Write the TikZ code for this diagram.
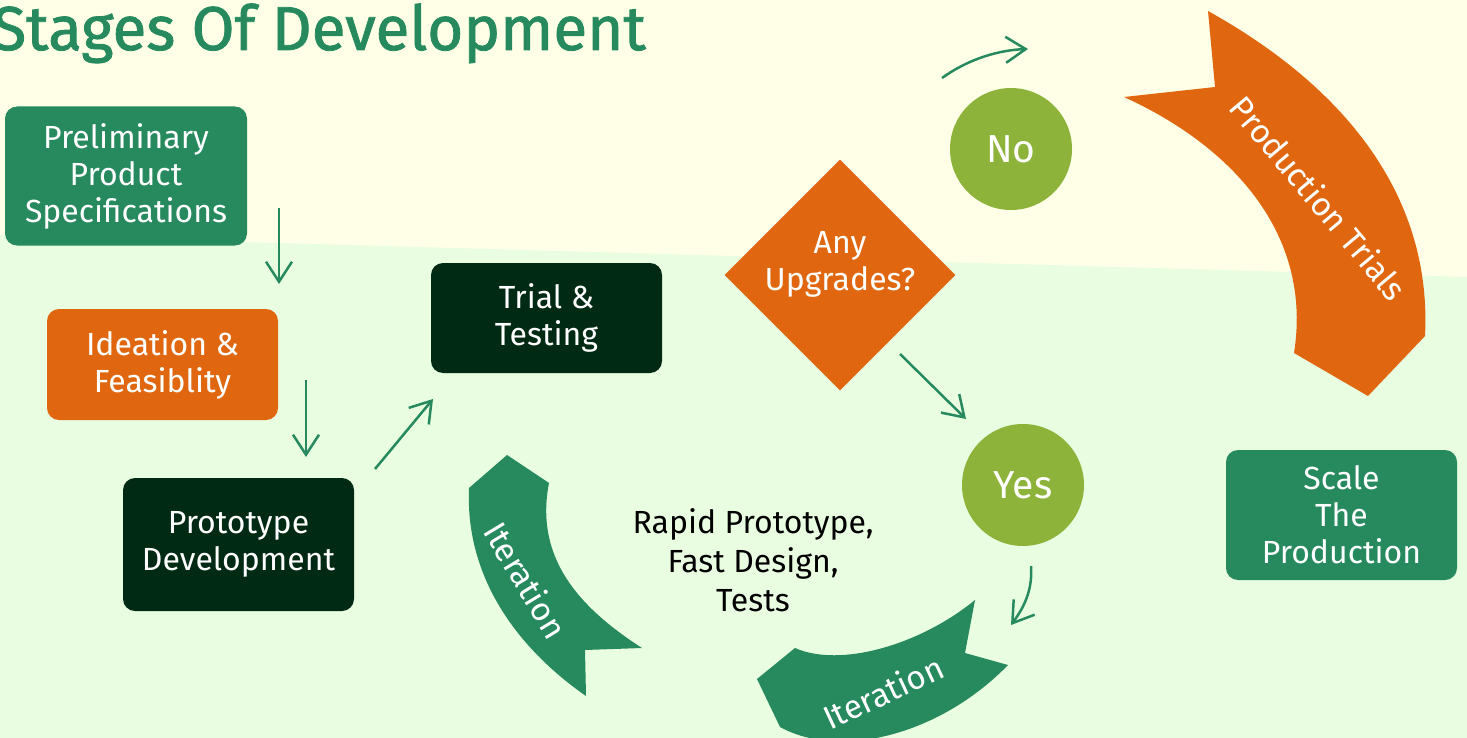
\documentclass[tikz,border=0pt]{standalone}
\usepackage{fontspec}
\setmainfont{Fira Sans}
\newfontfamily\titlefont{Fira Sans}[FakeBold=1.3]
\usetikzlibrary{arrows.meta,shapes.geometric}
\definecolor{bgtop}{HTML}{FEFFE6}
\definecolor{bgbot}{HTML}{E9FDE1}
\definecolor{gbox}{HTML}{268A5E}
\definecolor{obox}{HTML}{E0670F}
\definecolor{dbox}{HTML}{002A14}
\definecolor{olive}{HTML}{8DB33A}
\begin{document}
\begin{tikzpicture}[x=0.5pt,y=-0.5pt,
  box/.style={rounded corners=6pt, text=white, align=center, inner sep=0pt,
    font=\fontsize{16}{18.5}\selectfont},
  circ/.style={circle, fill=olive, text=white, minimum size=61pt, inner sep=0pt,
    font=\fontsize{19.5}{22}\selectfont},
  arr/.style={draw=gbox, line width=1.25pt, -{Straight Barb[length=10pt,width=13pt,line width=1.25pt]}},
  ribtext/.style={text=white, font=\fontsize{16.5}{19}\selectfont, inner sep=0pt}
]
\useasboundingbox (0,0) rectangle (1467,738);
\begin{scope}
\clip (0,0) rectangle (1467,738);
\fill[bgtop] (0,0) rectangle (1467,738);
\fill[bgbot] (0,235) -- (1467,277) -- (1467,738) -- (0,738) -- cycle;

% title
\node[anchor=base west, text=gbox, inner sep=0pt,
  font=\titlefont\fontsize{31}{31}\selectfont] (title) at (-8,50) {Stages Of Development};

% boxes
\node[box, fill=gbox, minimum width=121pt, minimum height=69.5pt] (b1) at (126,176) {Preliminary\\Product\\Specifications};
\node[box, fill=obox, minimum width=115.5pt, minimum height=55.5pt] (b2) at (162.5,364.5) {Ideation \&\\Feasiblity};
\node[box, fill=dbox, minimum width=115.5pt, minimum height=66.5pt] (b3) at (238.5,544.5) {Prototype\\Development};
\node[box, fill=dbox, minimum width=115.5pt, minimum height=55pt] (b4) at (546.5,318) {Trial \&\\Testing};
\node[box, fill=gbox, minimum width=115.5pt, minimum height=65pt] (sc) at (1341.5,515) {Scale\\The\\Production};

% diamond
\node[diamond, fill=obox, minimum width=115.5pt, minimum height=115.5pt, inner sep=0pt, aspect=1] (dia) at (840,275) {};
\node[box, anchor=center] (diatext) at (840,264) {Any\\Upgrades?};

% circles
\node[circ] (no) at (1011,149) {No};
\node[circ] (yes) at (1023,485) {Yes};

% center text
\node[align=center, inner sep=0pt, font=\fontsize{16}{19.5}\selectfont] (rapid) at (753,560) {Rapid Prototype,\\Fast Design,\\Tests};

% ribbons
\fill[gbox] (507,455) -- (469,488) .. controls (465,580) and (520,650) .. (586,696)
  -- (585,650) -- (642,648) .. controls (575,605) and (535,555) .. (549,483) -- cycle;
\node[ribtext, rotate=-59] (it1) at (526,580) {Iteration};

\fill[gbox] (757,679) -- (795,648) .. controls (840,668) and (920,645) .. (975,600)
  -- (965,653) -- (1008,665) .. controls (940,735) and (840,760) .. (780,727) -- cycle;
\node[ribtext, rotate=25] (it2) at (883,692) {Iteration};

\fill[obox] (1208,11) .. controls (1350,90) and (1432,200) .. (1425,336)
  -- (1368,396) -- (1294,353) .. controls (1312,240) and (1240,150) .. (1124,97)
  -- (1215,87) -- cycle;
\node[ribtext, rotate=-50] (pt) at (1319,198) {Production Trials};

% connectors
\coordinate (a1s) at (279,208); \coordinate (a1e) at (279,284);
\coordinate (a2s) at (306,380); \coordinate (a2e) at (306,457);
\coordinate (a3s) at (375,469); \coordinate (a3e) at (433,399);
\coordinate (a4s) at (900,354); \coordinate (a4e) at (966,419);
\coordinate (a5s) at (942,78);  \coordinate (a5e) at (1028,49);
\coordinate (a6s) at (1031,566); \coordinate (a6e) at (1011,625);
\draw[arr] (a1s) -- (a1e);
\draw[arr] (a2s) -- (a2e);
\draw[arr] (a3s) -- (a3e);
\draw[arr] (a4s) -- (a4e);
\draw[arr] (a5s) .. controls (970,58) and (1000,50) .. (a5e);
\draw[arr] (a6s) .. controls (1033,592) and (1022,610) .. (a6e);
\end{scope}
\end{tikzpicture}
\end{document}
